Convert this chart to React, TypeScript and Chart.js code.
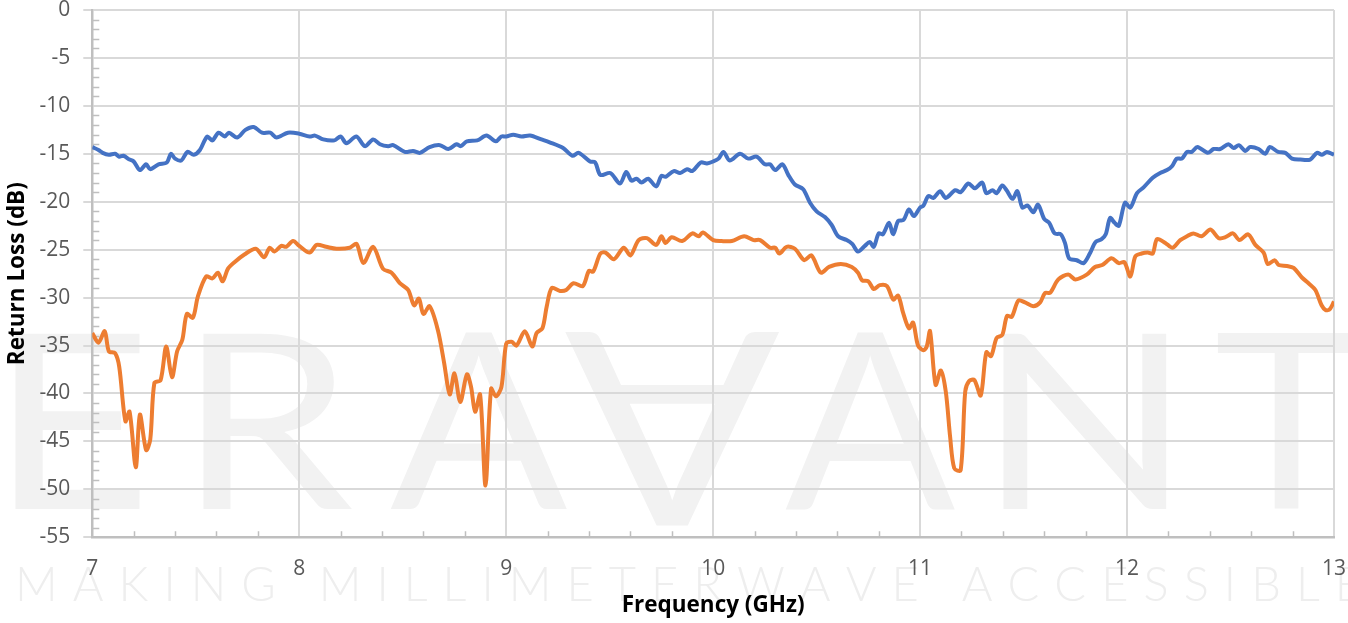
import React, { useEffect, useRef } from "react";
import { Chart, registerables } from "chart.js";

Chart.register(...registerables);

// ---- Data ----
const blueFreq = [
  7.0, 7.03, 7.05, 7.08, 7.11, 7.13, 7.15, 7.18, 7.2, 7.23, 7.26, 7.28, 7.32, 7.36, 7.38, 7.4, 7.43, 7.46, 7.49, 7.52,
  7.555, 7.58, 7.61, 7.64, 7.66, 7.7, 7.74, 7.78, 7.82, 7.86, 7.89, 7.945, 8.0, 8.05, 8.076, 8.116, 8.17, 8.2, 8.228,
  8.276, 8.317, 8.357, 8.39, 8.43, 8.454, 8.51, 8.55, 8.583, 8.63, 8.68, 8.72, 8.76, 8.78, 8.81, 8.86, 8.905, 8.95,
  8.977, 9.0, 9.034, 9.074, 9.115, 9.17, 9.21, 9.275, 9.32, 9.35, 9.405, 9.43, 9.455, 9.503, 9.55, 9.58, 9.605, 9.63,
  9.654, 9.686, 9.725, 9.75, 9.77, 9.81, 9.84, 9.874, 9.9, 9.94, 9.97, 10.0, 10.026, 10.05, 10.08, 10.13, 10.17, 10.21,
  10.25, 10.275, 10.3, 10.335, 10.363, 10.395, 10.435, 10.468, 10.5, 10.54, 10.572, 10.604, 10.645, 10.672, 10.7,
  10.733, 10.757, 10.776, 10.8, 10.82, 10.85, 10.87, 10.894, 10.92, 10.946, 10.97, 11.0, 11.016, 11.04, 11.064, 11.097,
  11.124, 11.17, 11.196, 11.233, 11.265, 11.3, 11.32, 11.35, 11.37, 11.397, 11.418, 11.447, 11.47, 11.494, 11.52,
  11.547, 11.57, 11.6, 11.624, 11.65, 11.68, 11.7, 11.72, 11.757, 11.79, 11.82, 11.848, 11.877, 11.897, 11.918, 11.94,
  11.96, 11.99, 12.016, 12.048, 12.08, 12.124, 12.16, 12.193, 12.217, 12.24, 12.265, 12.29, 12.313, 12.34, 12.39,
  12.418, 12.45, 12.49, 12.515, 12.54, 12.571, 12.595, 12.636, 12.668, 12.69, 12.73, 12.765, 12.797, 12.837, 12.885,
  12.918, 12.942, 12.966, 13.0,
];
const blueLoss = [
  -14.3, -14.6, -14.9, -15.1, -15.0, -15.3, -15.2, -15.6, -15.8, -16.7, -16.1, -16.6, -16.1, -15.9, -15.0, -15.5, -15.7,
  -14.8, -15.1, -14.6, -13.2, -13.6, -12.8, -13.2, -12.8, -13.3, -12.5, -12.2, -12.8, -12.8, -13.3, -12.8, -12.9, -13.2,
  -13.1, -13.5, -13.6, -13.2, -13.9, -13.2, -14.2, -13.5, -14.0, -14.2, -14.1, -14.8, -14.7, -14.9, -14.3, -14.1, -14.5,
  -14.0, -14.2, -13.7, -13.6, -13.1, -13.7, -13.2, -13.2, -13.0, -13.2, -13.1, -13.5, -13.8, -14.4, -15.2, -14.9, -15.8,
  -15.9, -17.2, -17.0, -18.1, -16.9, -17.8, -17.6, -18.0, -17.6, -18.4, -17.3, -17.4, -16.8, -17.0, -16.6, -16.8, -15.9,
  -16.0, -15.8, -15.5, -14.8, -15.7, -15.0, -15.5, -15.3, -16.1, -16.1, -16.7, -16.1, -17.2, -18.2, -18.7, -20.1, -21.0,
  -21.6, -22.4, -23.6, -24.0, -24.4, -25.2, -24.6, -24.2, -24.7, -23.3, -23.4, -22.2, -23.4, -22.0, -21.9, -20.8, -21.5,
  -20.6, -20.4, -19.4, -19.6, -18.9, -19.6, -18.8, -19.0, -18.1, -18.6, -18.0, -19.1, -18.8, -19.1, -18.3, -18.8, -19.7,
  -18.9, -20.6, -20.4, -21.1, -20.3, -21.8, -22.2, -23.3, -23.4, -24.3, -25.9, -26.1, -26.4, -25.4, -24.2, -23.9, -23.4,
  -21.7, -22.2, -22.5, -20.1, -20.6, -19.1, -18.5, -17.5, -17.0, -16.7, -16.3, -15.5, -15.5, -14.8, -14.8, -14.3, -14.9,
  -14.5, -14.5, -14.0, -14.4, -14.1, -14.7, -14.3, -14.5, -15.0, -14.3, -14.8, -14.9, -15.5, -15.6, -15.6, -14.9, -15.1,
  -14.8, -15.1,
];

const orangeFreq = [
  7.0, 7.03, 7.06, 7.08, 7.11, 7.13, 7.16, 7.18, 7.21, 7.23, 7.26, 7.28, 7.3, 7.33, 7.357, 7.385, 7.41, 7.435, 7.457,
  7.486, 7.51, 7.55, 7.58, 7.607, 7.63, 7.655, 7.687, 7.735, 7.79, 7.83, 7.857, 7.88, 7.913, 7.937, 7.97, 8.0, 8.05,
  8.084, 8.13, 8.18, 8.244, 8.277, 8.31, 8.357, 8.405, 8.446, 8.486, 8.526, 8.555, 8.578, 8.6, 8.63, 8.67, 8.7, 8.727,
  8.75, 8.778, 8.81, 8.83, 8.85, 8.874, 8.9, 8.927, 8.95, 8.977, 9.0, 9.026, 9.05, 9.09, 9.126, 9.147, 9.175, 9.196,
  9.22, 9.26, 9.29, 9.325, 9.37, 9.4, 9.42, 9.455, 9.48, 9.52, 9.568, 9.6, 9.64, 9.68, 9.725, 9.75, 9.77, 9.8, 9.85,
  9.9, 9.93, 9.95, 10.0, 10.04, 10.09, 10.15, 10.195, 10.227, 10.275, 10.3, 10.32, 10.355, 10.395, 10.44, 10.475,
  10.52, 10.56, 10.617, 10.67, 10.7, 10.72, 10.75, 10.776, 10.805, 10.84, 10.87, 10.894, 10.918, 10.946, 10.966,
  10.99, 11.016, 11.032, 11.048, 11.075, 11.1, 11.124, 11.145, 11.165, 11.196, 11.218, 11.237, 11.262, 11.293, 11.32,
  11.343, 11.37, 11.397, 11.42, 11.443, 11.475, 11.507, 11.547, 11.58, 11.604, 11.628, 11.668, 11.716, 11.75, 11.805,
  11.845, 11.88, 11.925, 11.96, 11.987, 12.016, 12.04, 12.07, 12.1, 12.124, 12.145, 12.185, 12.22, 12.257, 12.29,
  12.32, 12.36, 12.403, 12.443, 12.475, 12.512, 12.543, 12.585, 12.62, 12.66, 12.68, 12.713, 12.733, 12.772, 12.805,
  12.845, 12.877, 12.91, 12.94, 12.96, 12.98, 13.0,
];
const orangeLoss = [
  -33.7, -34.7, -33.5, -35.6, -35.8, -37.2, -42.9, -41.9, -47.7, -42.2, -45.9, -44.8, -38.9, -38.6, -35.1, -38.3, -35.6,
  -34.4, -31.7, -32.1, -29.9, -27.8, -28.0, -27.4, -28.3, -27.0, -26.3, -25.5, -24.9, -25.8, -24.8, -25.2, -24.6, -24.7,
  -24.1, -24.6, -25.3, -24.5, -24.7, -24.9, -24.8, -24.4, -26.4, -24.7, -27.0, -27.4, -28.5, -29.2, -30.8, -30.1, -31.7,
  -30.9, -33.4, -36.8, -40.1, -37.9, -40.9, -38.0, -39.3, -41.9, -40.1, -49.6, -39.5, -40.3, -39.3, -34.8, -34.6, -35.0,
  -33.5, -35.1, -33.7, -33.2, -30.9, -29.0, -29.3, -29.2, -28.5, -28.8, -27.2, -27.3, -25.4, -25.3, -26.0, -24.8, -25.6,
  -24.0, -23.8, -24.5, -23.6, -24.3, -23.7, -24.1, -23.3, -23.6, -23.2, -24.0, -24.1, -24.1, -23.6, -24.0, -24.0, -24.8,
  -24.8, -25.4, -24.7, -24.9, -26.1, -25.6, -27.4, -26.8, -26.5, -26.8, -27.4, -28.2, -28.3, -29.1, -28.7, -28.8, -30.2,
  -29.8, -31.6, -33.2, -32.6, -35.0, -35.5, -35.1, -33.5, -39.1, -37.6, -39.8, -44.5, -47.8, -48.0, -39.8, -38.7, -38.6,
  -40.2, -35.7, -36.1, -34.2, -33.9, -31.9, -32.0, -30.3, -30.5, -30.9, -30.5, -29.5, -29.5, -28.1, -27.6, -28.1, -27.6,
  -26.8, -26.6, -25.9, -26.4, -26.3, -27.8, -25.7, -25.4, -25.3, -25.4, -23.9, -24.3, -24.8, -24.0, -23.6, -23.3, -23.6,
  -22.9, -23.8, -23.7, -23.3, -24.0, -23.4, -24.5, -25.3, -26.5, -26.1, -26.6, -26.7, -26.9, -27.9, -28.5, -29.2, -30.8,
  -31.3, -31.2, -30.4,
];

const seriesNames = ["S11", "S22"];
const xTitle = "Frequency (GHz)";
const yTitle = "Return Loss (dB)";
const watermarkWord = ["E", "R", "A", "V", "A", "N", "T"];
const watermarkTagline = "MAKING MILLIMETERWAVE ACCESSIBLE";

// ---- Plugins ----
const watermarkPlugin = {
  id: "watermark",
  beforeDraw(chart: any) {
    const ctx: CanvasRenderingContext2D = chart.ctx;
    // big letters: [left, right, top, bottom, rotated]
    const boxes: [number, number, number, number, boolean][] = [
      [15, 140, 333, 509, false],
      [203, 353, 333, 509, false],
      [390, 567, 333, 509, false],
      [565, 780, 332, 525, true],
      [785, 955, 333, 509, false],
      [1003, 1167, 333, 509, false],
      [1218, 1356, 333, 509, false],
    ];
    ctx.save();
    ctx.fillStyle = "#f2f2f2";
    ctx.font = "400 200px Lato";
    watermarkWord.forEach((c, i) => {
      const ch = c === "V" ? "A" : c;
      const [l, r, t, b, rot] = boxes[i];
      const m = ctx.measureText(ch);
      const inkW = m.actualBoundingBoxLeft + m.actualBoundingBoxRight;
      const inkH = m.actualBoundingBoxAscent + m.actualBoundingBoxDescent;
      ctx.save();
      if (rot) {
        const cx = (l + r) / 2;
        const cy = (t + b) / 2;
        ctx.translate(cx, cy);
        ctx.rotate(Math.PI);
        ctx.translate(-cx, -cy);
      }
      ctx.translate(l, t);
      ctx.scale((r - l) / inkW, (b - t) / inkH);
      ctx.textBaseline = "alphabetic";
      ctx.fillText(ch, m.actualBoundingBoxLeft, m.actualBoundingBoxAscent);
      ctx.restore();
    });
    // tagline
    ctx.fillStyle = "#eeeeee";
    ctx.font = "300 47px Lato";
    ctx.textBaseline = "alphabetic";
    const chars = watermarkTagline.split("");
    const widths = chars.map((c) => ctx.measureText(c).width);
    const total = widths.reduce((a, b) => a + b, 0);
    const startX = 15;
    const endX = 1362;
    const gap = (endX - startX - total) / (chars.length - 1);
    let x = startX;
    chars.forEach((c, i) => {
      ctx.fillText(c, x, 601);
      x += widths[i] + gap;
    });
    ctx.restore();
  },
};

const minorTicksPlugin = {
  id: "minorTicks",
  beforeDatasetsDraw(chart: any) {
    const { ctx, chartArea } = chart;
    const xs = chart.scales.x;
    const ys = chart.scales.y;
    ctx.save();
    ctx.strokeStyle = "#bfbfbf";
    ctx.lineWidth = 1.5;
    ctx.beginPath();
    for (let v = -54; v < 0; v++) {
      if (v % 5 === 0) continue;
      const py = Math.round(ys.getPixelForValue(v)) + 0.5;
      ctx.moveTo(chartArea.left, py);
      ctx.lineTo(chartArea.left + 7, py);
    }
    for (let i = 1; i < 30; i++) {
      if (i % 5 === 0) continue;
      const px = Math.round(xs.getPixelForValue(7 + i * 0.2)) + 0.5;
      ctx.moveTo(px, chartArea.bottom);
      ctx.lineTo(px, chartArea.bottom - 6);
    }
    ctx.stroke();
    ctx.restore();
  },
};

export default function App() {
  const canvasRef = useRef<HTMLCanvasElement | null>(null);

  useEffect(() => {
    const canvas = canvasRef.current;
    if (!canvas) return;
    const tickFont = { family: "'Open Sans', sans-serif", size: 21 };
    const titleFont = { family: "'Open Sans', sans-serif", size: 22.5, weight: "bold" as const };
    const chart = new Chart(canvas, {
      type: "line",
      data: {
        datasets: [
          {
            label: seriesNames[0],
            data: blueFreq.map((f, i) => ({ x: f, y: blueLoss[i] })),
            borderColor: "#4472C4",
            backgroundColor: "#4472C4",
            borderWidth: 4,
            pointRadius: 0,
            tension: 0.3,
            fill: false,
          },
          {
            label: seriesNames[1],
            data: orangeFreq.map((f, i) => ({ x: f, y: orangeLoss[i] })),
            borderColor: "#ED7D31",
            backgroundColor: "#ED7D31",
            borderWidth: 4,
            pointRadius: 0,
            tension: 0.3,
            fill: false,
          },
        ],
      },
      options: {
        animation: false,
        responsive: false,
        maintainAspectRatio: false,
        layout: { padding: { top: 10, right: 14, left: 0, bottom: 0 } },
        plugins: { legend: { display: false }, tooltip: { enabled: false } },
        scales: {
          x: {
            type: "linear",
            min: 7,
            max: 13,
            ticks: { stepSize: 1, color: "#595959", font: tickFont, padding: 19, maxRotation: 0 },
            grid: { color: "#d9d9d9", lineWidth: 2, drawTicks: false },
            border: { color: "#bfbfbf", width: 2.5 },
            title: { display: true, text: xTitle, color: "#000", font: titleFont, padding: { top: 0, bottom: 3.5 } },
            afterFit: (s: any) => {
              s.height = 85.7;
              s.paddingLeft = 0;
              s.paddingRight = 0;
            },
          },
          y: {
            type: "linear",
            min: -55,
            max: 0,
            ticks: { stepSize: 5, color: "#595959", font: tickFont, padding: 13 },
            grid: { color: "#d9d9d9", lineWidth: 2, tickLength: 9, tickColor: "#d9d9d9" },
            border: { color: "#bfbfbf", width: 2.5 },
            title: { display: true, text: yTitle, color: "#000", font: titleFont, padding: { top: 4, bottom: 0 } },
            afterFit: (s: any) => {
              s.width = 92.3;
              s.paddingTop = 0;
              s.paddingBottom = 0;
            },
          },
        },
      },
      plugins: [watermarkPlugin, minorTicksPlugin],
    });
    (document as any).fonts?.ready?.then(() => chart.update());
    return () => chart.destroy();
  }, []);

  return (
    <div style={{ position: "fixed", left: 0, top: 0, width: 1348, height: 623, background: "#fff" }}>
      <canvas ref={canvasRef} width={1348} height={623} style={{ width: 1348, height: 623, display: "block" }} />
    </div>
  );
}
